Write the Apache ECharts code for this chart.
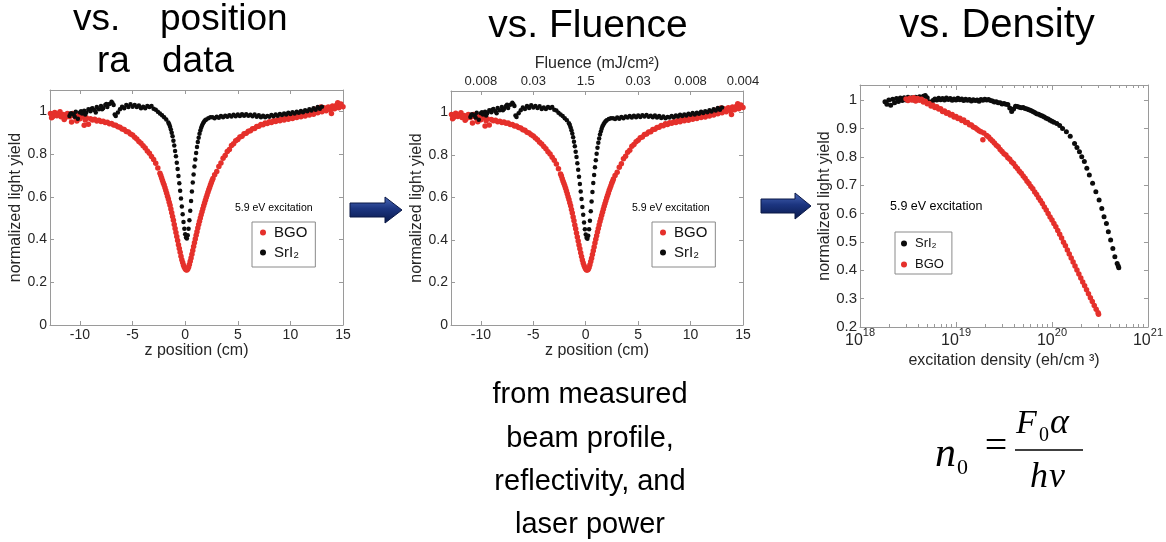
<!DOCTYPE html>
<html><head><meta charset="utf-8">
<script src="https://cdn.jsdelivr.net/npm/echarts@6.0.0/dist/echarts.min.js"></script>
<style>html,body{margin:0;padding:0;background:#fff}#chart{width:1166px;height:542px}</style>
</head><body><div id="chart"></div>
<script>
// z-scan data: [z position (cm), normalized light yield]
const bgoScan = [
[-12.8,0.99],[-12.7,0.97],[-12.6,0.975],[-12.4,0.995],[-12.3,0.985],[-12.2,0.98],[-12.0,0.99],[-11.9,0.998],[-11.8,0.975],[-11.6,0.985],[-11.5,0.962],[-11.4,0.97],[-11.2,0.99],[-11.1,0.98],[-11.0,0.975],[-10.8,0.95],[-10.7,0.99],[-10.6,0.98],[-10.4,0.97],[-10.3,0.955],[-10.2,0.985],[-10.0,0.965],[-9.9,0.98],[-9.8,0.975],[-9.6,0.935],[-9.5,0.96],[-9.4,0.97],[-9.2,0.94],[-9.0,0.966],[-8.8,0.96],[-8.6,0.963],[-8.4,0.955],[-8.2,0.958],[-8.0,0.952],[-7.8,0.954],[-7.6,0.948],[-7.4,0.949],[-7.2,0.942],[-7.0,0.943],[-6.8,0.936],[-6.6,0.935],[-6.4,0.928],[-6.2,0.926],[-6.0,0.918],[-5.8,0.915],[-5.6,0.906],[-5.4,0.903],[-5.2,0.894],[-5.0,0.889],[-4.8,0.879],[-4.6,0.871],[-4.4,0.859],[-4.2,0.851],[-4.0,0.839],[-3.8,0.829],[-3.6,0.815],[-3.4,0.804],[-3.2,0.789],[-3.0,0.775],[-2.8,0.757],[-2.6,0.735],
[-2.4,0.71],[-2.32,0.70],[-2.24,0.688],[-2.16,0.676],[-2.08,0.665],[-2.0,0.655],[-1.92,0.643],[-1.84,0.63],[-1.76,0.617],[-1.68,0.603],[-1.6,0.59],[-1.52,0.575],[-1.44,0.56],[-1.36,0.543],[-1.28,0.526],[-1.2,0.508],[-1.12,0.49],[-1.04,0.47],[-0.96,0.452],[-0.88,0.433],[-0.8,0.414],[-0.72,0.395],[-0.64,0.376],[-0.56,0.358],[-0.48,0.34],[-0.4,0.322],[-0.32,0.306],[-0.24,0.292],[-0.16,0.28],[-0.08,0.27],[0,0.263],[0.08,0.259],[0.16,0.258],[0.24,0.262],[0.32,0.27],[0.4,0.283],[0.48,0.298],[0.56,0.314],[0.64,0.331],[0.72,0.349],[0.8,0.367],[0.88,0.385],[0.96,0.403],[1.04,0.42],[1.12,0.437],[1.2,0.454],[1.28,0.47],[1.36,0.486],[1.44,0.501],[1.52,0.516],[1.6,0.53],[1.68,0.544],[1.76,0.558],[1.84,0.571],[1.92,0.584],[2.0,0.597],[2.08,0.609],[2.16,0.621],[2.24,0.633],[2.32,0.644],[2.4,0.655],[2.48,0.666],[2.56,0.676],[2.64,0.686],
[2.8,0.703],[3.0,0.718],[3.2,0.742],[3.4,0.758],[3.6,0.781],[3.8,0.793],[4.0,0.812],[4.2,0.822],[4.4,0.84],[4.6,0.848],[4.8,0.862],[5.0,0.868],[5.2,0.88],[5.4,0.884],[5.6,0.895],[5.8,0.898],[6.0,0.907],[6.2,0.909],[6.4,0.919],[6.6,0.92],[6.8,0.929],[7.0,0.93],[7.2,0.938],[7.4,0.937],[7.6,0.946],[7.8,0.943],[8.0,0.951],[8.2,0.948],[8.4,0.956],[8.6,0.952],[8.8,0.961],[9.0,0.956],[9.2,0.966],[9.4,0.96],[9.6,0.97],[9.8,0.963],[10.0,0.975],[10.2,0.967],[10.4,0.979],[10.6,0.971],[10.8,0.983],[11.0,0.975],[11.2,0.988],[11.4,0.978],[11.6,0.992],[11.8,0.983],[11.9,0.995],[12.0,0.998],[12.2,0.987],[12.3,1.01],[12.4,1.004],[12.6,0.993],[12.8,1.012],[12.9,1.02],[13.0,0.998],[13.2,1.017],[13.4,1.003],[13.6,1.021],[13.8,1.008],[13.9,0.99],[14.0,1.025],[14.2,1.012],[14.4,1.03],[14.5,1.04],[14.6,1.017],[14.8,1.034],[15.0,1.022]
];
const sri2Scan = [
[-11.0,0.978],[-10.9,0.99],[-10.8,0.99],[-10.6,0.985],[-10.5,0.975],[-10.4,0.998],[-10.2,0.965],[-10.0,0.995],[-9.9,1.0],[-9.8,0.99],[-9.6,1.003],[-9.5,0.985],[-9.4,0.995],[-9.2,1.01],[-9.0,1.0],[-8.9,1.012],[-8.8,1.015],[-8.6,1.005],[-8.5,0.995],[-8.4,1.02],[-8.2,1.01],[-8.0,1.025],[-7.9,1.01],[-7.8,1.015],[-7.6,1.03],[-7.5,1.035],[-7.4,1.02],[-7.2,1.035],[-7.0,1.045],[-6.9,1.038],[-6.8,1.03],[-6.7,0.985],[-6.6,0.978],[-6.4,0.995],[-6.2,1.01],[-6.0,1.022],[-5.8,1.015],[-5.6,1.03],[-5.4,1.02],[-5.2,1.033],[-5.0,1.022],[-4.8,1.03],[-4.6,1.02],[-4.4,1.028],[-4.2,1.015],[-4.0,1.022],[-3.8,1.015],[-3.6,1.025],[-3.4,1.02],[-3.2,1.025],[-3.0,1.012],[-2.8,1.008],[-2.6,0.998],[-2.4,0.99],[-2.2,0.982],[-2.0,0.972],[-1.8,0.962],[-1.6,0.948],
[-1.52,0.94],[-1.44,0.928],[-1.36,0.915],[-1.28,0.9],[-1.2,0.883],[-1.12,0.862],[-1.04,0.84],[-0.96,0.815],[-0.88,0.79],[-0.8,0.76],[-0.72,0.73],[-0.64,0.697],[-0.56,0.663],[-0.48,0.628],[-0.4,0.592],[-0.32,0.555],[-0.24,0.518],[-0.16,0.482],[-0.08,0.45],[0,0.425],[0.08,0.41],[0.16,0.405],[0.24,0.42],[0.32,0.45],[0.4,0.49],[0.48,0.535],[0.56,0.58],[0.64,0.625],[0.72,0.667],[0.8,0.705],[0.88,0.742],[0.96,0.775],[1.04,0.805],[1.12,0.833],[1.2,0.857],[1.28,0.877],[1.36,0.895],[1.44,0.91],[1.52,0.923],[1.6,0.934],[1.7,0.944],[1.8,0.952],[1.9,0.958],[2.0,0.962],[2.2,0.968],[2.4,0.972],
[2.6,0.972],[2.8,0.968],[3.0,0.975],[3.2,0.97],[3.4,0.978],[3.6,0.972],[3.8,0.98],[4.0,0.975],[4.2,0.982],[4.4,0.976],[4.6,0.984],[4.8,0.977],[5.0,0.985],[5.2,0.978],[5.4,0.986],[5.6,0.98],[5.8,0.987],[6.0,0.979],[6.2,0.984],[6.4,0.977],[6.6,0.985],[6.8,0.975],[7.0,0.982],[7.2,0.973],[7.4,0.98],[7.6,0.972],[7.8,0.978],[8.0,0.975],[8.2,0.983],[8.4,0.977],[8.6,0.985],[8.8,0.98],[9.0,0.988],[9.2,0.983],[9.4,0.99],[9.6,0.985],[9.8,0.993],[10.0,0.988],[10.2,0.996],[10.4,0.99],[10.6,0.998],[10.8,0.993],[11.0,1.002],[11.2,0.996],[11.4,1.005],[11.6,1.0],[11.8,1.01],[12.0,1.004],[12.2,1.014],[12.4,1.008],[12.6,1.02],[12.8,1.012],[13.0,1.022]
];
// density data: [log10 of excitation density (eh/cm^3), normalized light yield]
const sri2Density = [
[18.26,0.994],[18.28,0.985],[18.30,1.0],[18.32,0.982],[18.34,1.003],[18.36,0.99],[18.38,1.005],[18.40,0.995],[18.42,1.007],[18.44,0.998],[18.46,1.008],[18.48,1.0],[18.50,1.01],[18.52,1.002],[18.54,1.008],[18.56,1.0],[18.58,1.01],[18.60,1.004],[18.62,1.012],[18.64,1.006],[18.66,1.013],[18.68,1.016],[18.70,1.008],[18.72,0.994],[18.74,0.99],[18.76,0.998],[18.78,1.004],[18.80,1.0],[18.82,1.006],[18.84,1.001],[18.86,1.005],[18.88,1.0],[18.90,1.007],[18.92,1.002],[18.94,1.005],[18.96,0.999],[18.98,1.004],[19.00,1.0],[19.02,1.006],[19.04,1.001],[19.06,1.004],[19.08,0.998],[19.10,1.003],[19.12,0.999],[19.14,1.002],[19.16,0.997],[19.18,1.001],[19.20,0.998],[19.22,1.0],[19.24,0.996],[19.26,1.002],[19.28,0.999],[19.30,1.003],[19.32,1.0],[19.34,1.002],[19.36,0.998],[19.38,0.997],[19.40,0.993],[19.42,0.994],[19.44,0.99],[19.46,0.99],[19.48,0.986],[19.50,0.988],[19.52,0.985],[19.54,0.984],[19.56,0.972],[19.58,0.96],[19.60,0.968],[19.62,0.978],[19.64,0.977],[19.66,0.975],[19.68,0.973],[19.70,0.974],[19.72,0.97],[19.74,0.968],[19.76,0.966],[19.78,0.963],[19.80,0.96],[19.82,0.956],[19.84,0.952],[19.86,0.95],[19.88,0.946],[19.90,0.944],[19.92,0.94],[19.94,0.936],[19.96,0.933],[19.98,0.929],[20.00,0.925],[20.02,0.922],[20.05,0.917],[20.08,0.91],[20.11,0.9],[20.15,0.888],[20.19,0.872],[20.235,0.847],[20.26,0.833],[20.286,0.818],[20.31,0.8],[20.337,0.783],[20.363,0.76],[20.389,0.736],[20.423,0.707],[20.457,0.677],[20.491,0.648],[20.519,0.618],[20.542,0.589],[20.567,0.565],[20.587,0.536],[20.611,0.507],[20.634,0.477],[20.655,0.448],[20.679,0.424],[20.69,0.415],[20.696,0.409]
];
const bgoDensity = [
[18.48,1.004],[18.50,0.998],[18.52,1.006],[18.54,1.0],[18.56,1.008],[18.58,0.997],[18.60,1.005],[18.62,0.999],[18.64,1.003],[18.66,0.993],[18.68,0.996],[18.70,0.987],[18.72,0.988],[18.74,0.979],[18.76,0.982],[18.78,0.974],[18.80,0.976],[18.82,0.968],[18.84,0.969],[18.86,0.96],[18.88,0.961],[18.90,0.953],[18.92,0.955],[18.94,0.947],[18.96,0.949],[18.98,0.94],[19.00,0.942],[19.02,0.935],[19.04,0.936],[19.06,0.928],[19.08,0.93],[19.10,0.921],[19.12,0.921],[19.14,0.913],[19.16,0.912],[19.18,0.905],[19.20,0.902],[19.22,0.897],[19.24,0.892],[19.26,0.888],[19.28,0.86],[19.29,0.884],[19.32,0.875],[19.34,0.87],[19.36,0.862],[19.38,0.856],[19.40,0.849],[19.42,0.841],[19.44,0.835],[19.46,0.826],[19.48,0.819],[19.50,0.811],[19.52,0.806],[19.54,0.797],[19.56,0.791],[19.58,0.782],[19.60,0.776],[19.62,0.766],[19.64,0.759],[19.66,0.749],[19.68,0.742],[19.70,0.732],[19.72,0.724],[19.74,0.714],[19.76,0.706],[19.78,0.695],[19.80,0.687],[19.82,0.676],[19.84,0.667],[19.86,0.656],[19.88,0.646],[19.90,0.635],[19.92,0.623],[19.94,0.612],[19.96,0.6],[19.98,0.588],[20.00,0.577],[20.02,0.565],[20.04,0.553],[20.06,0.54],[20.08,0.527],[20.10,0.514],[20.12,0.499],[20.14,0.486],[20.16,0.471],[20.18,0.457],[20.20,0.443],[20.22,0.429],[20.24,0.415],[20.26,0.401],[20.28,0.387],[20.30,0.373],[20.32,0.359],[20.34,0.345],[20.36,0.331],[20.38,0.317],[20.40,0.303],[20.42,0.29],[20.44,0.276],[20.46,0.263],[20.48,0.25],[20.485,0.245]
];
const zTicks = [-10, -5, 0, 5, 10, 15];
const fluenceLabels = ['0.008', '0.03', '1.5', '0.03', '0.008', '0.004'];
const yieldTicks = [0, 0.2, 0.4, 0.6, 0.8, 1];
const densityYieldTicks = [0.2, 0.3, 0.4, 0.5, 0.6, 0.7, 0.8, 0.9, 1];
const densityDecades = [18, 19, 20, 21];
const densityMinor = [];
densityDecades.slice(0, 3).forEach(d => { for (let k = 2; k <= 9; k++) densityMinor.push(d + Math.log10(k)); });

const RED = '#e5302b', BLACK = '#0c0c0c', AX = '#9a9a9a', TXT = '#262626';
const FONT = 'Liberation Sans, Arial, sans-serif';

function frameAxis(extra) {
  return Object.assign({
    axisLine: { show: true, onZero: false, lineStyle: { color: AX, width: 1 } },
    splitLine: { show: false },
    axisLabel: { show: false },
    axisTick: { show: true, inside: true, length: 4, lineStyle: { color: AX } }
  }, extra);
}
function tickSet(vals, len) {
  return { show: true, inside: true, length: len || 4, customValues: vals, lineStyle: { color: AX } };
}
function labelSet(vals, size, extra) {
  return Object.assign({ show: true, customValues: vals, color: TXT, fontSize: size, fontFamily: FONT, margin: 3 }, extra || {});
}
const nameStyle = { fontSize: 16, color: TXT, fontFamily: FONT };

const grids = [
  { left: 50, top: 90, width: 293, height: 235 },
  { left: 451, top: 91, width: 292, height: 234 },
  { left: 860, top: 85, width: 293, height: 242 }
];

const xAxes = [
  frameAxis({ gridIndex: 0, type: 'value', position: 'bottom', min: -12.85, max: 15, axisTick: tickSet(zTicks), axisLabel: labelSet(zTicks, 14, { margin: 3 }), name: 'z position (cm)', nameLocation: 'middle', nameGap: 16, nameTextStyle: nameStyle }),
  frameAxis({ gridIndex: 0, type: 'value', position: 'top', min: -12.85, max: 15, axisTick: tickSet(zTicks) }),
  frameAxis({ gridIndex: 1, type: 'value', position: 'bottom', min: -12.85, max: 15, axisTick: tickSet(zTicks), axisLabel: labelSet(zTicks, 14, { margin: 3 }), name: 'z position (cm)', nameLocation: 'middle', nameGap: 16, nameTextStyle: nameStyle }),
  frameAxis({ gridIndex: 1, type: 'value', position: 'top', min: -12.85, max: 15, axisTick: tickSet(zTicks), axisLabel: labelSet(zTicks, 13, { margin: 3, formatter: v => fluenceLabels[zTicks.indexOf(v)] }), name: 'Fluence (mJ/cm²)', nameLocation: 'middle', nameGap: 19, nameTextStyle: nameStyle }),
  frameAxis({ gridIndex: 2, type: 'value', position: 'bottom', min: 18, max: 21, axisTick: tickSet(densityDecades, 5), axisLabel: labelSet(densityDecades, 15, { margin: 0, formatter: v => '{b|10}{e|' + v + '}', rich: { b: { fontSize: 16, fontFamily: FONT, color: TXT, padding: [6, 0, 0, 0], verticalAlign: 'bottom' }, e: { fontSize: 11, fontFamily: FONT, color: TXT, verticalAlign: 'top' } } }), name: 'excitation density (eh/cm ³)', nameLocation: 'middle', nameGap: 26, nameTextStyle: nameStyle }),
  frameAxis({ gridIndex: 2, type: 'value', position: 'top', min: 18, max: 21, axisTick: tickSet(densityDecades, 5) }),
  frameAxis({ gridIndex: 2, type: 'value', position: 'bottom', min: 18, max: 21, axisLine: { show: false, onZero: false }, axisTick: tickSet(densityMinor, 3) }),
  frameAxis({ gridIndex: 2, type: 'value', position: 'top', min: 18, max: 21, axisLine: { show: false, onZero: false }, axisTick: tickSet(densityMinor, 3) })
];
const yAxes = [
  frameAxis({ gridIndex: 0, type: 'value', position: 'left', min: 0, max: 1.1, axisTick: tickSet(yieldTicks), axisLabel: labelSet(yieldTicks, 14), name: 'normalized light yield', nameLocation: 'middle', nameGap: 26, nameTextStyle: nameStyle }),
  frameAxis({ gridIndex: 0, type: 'value', position: 'right', min: 0, max: 1.1, axisTick: tickSet(yieldTicks) }),
  frameAxis({ gridIndex: 1, type: 'value', position: 'left', min: 0, max: 1.1, axisTick: tickSet(yieldTicks), axisLabel: labelSet(yieldTicks, 14), name: 'normalized light yield', nameLocation: 'middle', nameGap: 26, nameTextStyle: nameStyle }),
  frameAxis({ gridIndex: 1, type: 'value', position: 'right', min: 0, max: 1.1, axisTick: tickSet(yieldTicks) }),
  frameAxis({ gridIndex: 2, type: 'value', position: 'left', min: 0.2, max: 1.053, axisTick: tickSet(densityYieldTicks), axisLabel: labelSet(densityYieldTicks, 15), name: 'normalized light yield', nameLocation: 'middle', nameGap: 24, nameTextStyle: nameStyle }),
  frameAxis({ gridIndex: 2, type: 'value', position: 'right', min: 0.2, max: 1.053, axisTick: tickSet(densityYieldTicks) })
];

function scat(name, data, color, size, xi, yi) {
  return { type: 'scatter', name: name, data: data, xAxisIndex: xi, yAxisIndex: yi, symbol: 'circle', symbolSize: size, itemStyle: { color: color, opacity: 1 }, silent: true, animation: false };
}
const series = [
  scat('BGO', bgoScan, RED, 5.5, 0, 0),
  scat('SrI₂', sri2Scan, BLACK, 4.5, 0, 0),
  scat('BGO', bgoScan, RED, 5.5, 2, 2),
  scat('SrI₂', sri2Scan, BLACK, 4.5, 2, 2),
  scat('SrI₂', sri2Density, BLACK, 5, 4, 4),
  scat('BGO', bgoDensity, RED, 5.5, 4, 4)
];

function legendBox(left, top, data, size, gap, pad) {
  return { show: true, data: data.map(n => ({ name: n, icon: 'circle' })), left: left, top: top, orient: 'vertical', itemWidth: 12, itemHeight: 6, itemGap: gap,
    padding: pad, borderColor: '#8a8a8a', borderWidth: 1, backgroundColor: '#fff', selectedMode: false,
    textStyle: { fontSize: size, color: '#111', fontFamily: FONT } };
}
const legends = [
  legendBox(252, 222, ['BGO', 'SrI₂'], 15, 5, [3, 8, 7, 8]),
  legendBox(652, 222, ['BGO', 'SrI₂'], 15, 5, [3, 8, 7, 8]),
  legendBox(895, 232, ['SrI₂', 'BGO'], 13, 8, [5, 8, 3, 6])
];

function txt(text, x, y, size, align, extra) {
  return { type: 'text', silent: true, style: Object.assign({ text: text, x: x, y: y, fill: '#000', font: size + 'px ' + FONT, textAlign: align || 'left', textVerticalAlign: 'middle' }, extra || {}) };
}
function serif(text, x, y, size, italic) {
  return { type: 'text', silent: true, style: { text: text, x: x, y: y, fill: '#000', font: (italic ? 'italic ' : '') + size + 'px "Liberation Serif", "DejaVu Serif", serif', textAlign: 'left', textVerticalAlign: 'middle' } };
}
const arrowFill = { type: 'linear', x: 0, y: 0, x2: 0, y2: 1, colorStops: [{ offset: 0, color: '#4a68b8' }, { offset: 0.45, color: '#1c3580' }, { offset: 1, color: '#08184a' }] };
function arrow(x0, xh, xt, cy, bh, hh) {
  return { type: 'polygon', silent: true, shape: { points: [[x0, cy - bh], [xh, cy - bh], [xh, cy - hh], [xt, cy], [xh, cy + hh], [xh, cy + bh], [x0, cy + bh]] }, style: { fill: arrowFill, stroke: '#0a1846', lineWidth: 1 } };
}

const graphics = [
  txt('vs.', 73, 20, 37), txt('position', 160, 20, 37),
  txt('ra', 97, 62, 37), txt('data', 162, 62, 37),
  txt('vs. Fluence', 588, 26, 39, 'center'),
  txt('vs. Density', 997, 26, 40, 'center'),
  txt('5.9 eV excitation', 235, 208, 10.5), txt('5.9 eV excitation', 632, 208, 10.5), txt('5.9 eV excitation', 890, 207, 12.5),
  arrow(350, 385, 402, 210, 7, 13),
  arrow(761, 795, 811, 206, 7, 13),
  txt('from measured', 590, 395, 29, 'center'),
  txt('beam profile,', 590, 439, 29, 'center'),
  txt('reflectivity, and', 590, 482, 29, 'center'),
  txt('laser power', 590, 525, 29, 'center'),
  serif('n', 935, 455, 42, true), serif('0', 957, 468, 22, false),
  { type: 'text', silent: true, style: { text: '=', x: 996, y: 447, fill: '#000', font: '40px "Liberation Serif", serif', textAlign: 'center', textVerticalAlign: 'middle' } },
  { type: 'line', silent: true, shape: { x1: 1015, y1: 450, x2: 1083, y2: 450 }, style: { stroke: '#000', lineWidth: 1.5 } },
  serif('F', 1016, 424, 34, true), serif('0', 1039, 436, 20, false), serif('α', 1050, 424, 36, true),
  serif('h', 1030, 478, 36, true), serif('ν', 1049, 478, 36, true)
];

const chart = echarts.init(document.getElementById('chart'), null, { renderer: 'canvas' });
chart.setOption({
  animation: false,
  backgroundColor: '#fff',
  grid: grids,
  xAxis: xAxes,
  yAxis: yAxes,
  legend: legends,
  series: series,
  graphic: { elements: graphics }
});
</script></body></html>
